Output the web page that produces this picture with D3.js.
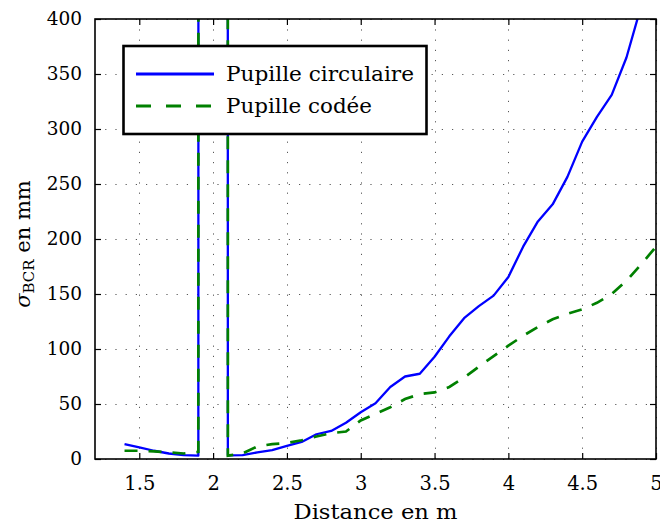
<!DOCTYPE html>
<html><head><meta charset="utf-8">
<script src="https://cdn.jsdelivr.net/npm/d3@7"></script>
<style>
body{margin:0;background:#fff}
text{font-family:"DejaVu Serif",serif;fill:#000}
</style>
</head><body>
<svg id="c" width="660" height="523"></svg>
<script>
const distance = [1.4,1.5,1.6,1.7,1.8,1.9,2.0,2.1,2.2,2.3,2.4,2.5,2.6,2.7,2.8,2.9,3.0,3.1,3.2,3.3,3.4,3.5,3.6,3.7,3.8,3.9,4.0,4.1,4.2,4.3,4.4,4.5,4.6,4.7,4.8,4.9,5.0];
const pupilleCirculaire = [13.6,10.5,7.5,5,3.5,3,100000,3.3,3.5,6,8,12,15.5,22.5,25.5,33,42.5,50.6,65.5,75,77.5,93,111.5,128,139,148.5,165.5,193,216,231.5,256.5,288.5,311,331,365,412,460];
const pupilleCodee = [7.5,7.5,7,6,5,6.5,100000,3,5,11.5,13.5,14.5,17,20.5,23.5,25,35,41,47,54.5,59,60.5,65.5,74,84,93.5,103,112,120,127,132,136,142,150,162,177,193];
const xTicks = [1.5,2,2.5,3,3.5,4,4.5,5];
const yTicks = [0,50,100,150,200,250,300,350,400];
const seriesNames = ["Pupille circulaire","Pupille codée"];
const seriesColors = ["#0000ff","#008000"];

const svg = d3.select("#c");
const L = 95, T = 19, R = 656, B = 459;
const x = d3.scaleLinear().domain([1.2,5]).range([L,R]);
const y = d3.scaleLinear().domain([0,400]).range([B,T]);
const FF = "DejaVu Serif";

// grid
const grid = svg.append("g").attr("stroke","#222").attr("stroke-width",1).attr("stroke-dasharray","1.2,9").attr("opacity",0.75);
grid.selectAll("line.v").data(xTicks).enter().append("line")
  .attr("x1",d=>Math.round(x(d))+0.5).attr("x2",d=>Math.round(x(d))+0.5).attr("y1",B).attr("y2",T);
grid.selectAll("line.h").data(yTicks).enter().append("line")
  .attr("y1",d=>Math.round(y(d))+0.5).attr("y2",d=>Math.round(y(d))+0.5).attr("x1",L).attr("x2",R);

// clip
svg.append("clipPath").attr("id","clip").append("rect").attr("x",L).attr("y",T).attr("width",R-L).attr("height",B-T);

const line = d3.line().x((d,i)=>x(distance[i])).y(d=>y(d));
const g = svg.append("g").attr("clip-path","url(#clip)");
g.append("path").datum(pupilleCirculaire).attr("d",line).attr("fill","none")
  .attr("stroke",seriesColors[0]).attr("stroke-width",2.3).attr("stroke-linejoin","round");
g.append("path").datum(pupilleCodee).attr("d",line).attr("fill","none")
  .attr("stroke",seriesColors[1]).attr("stroke-width",2.7).attr("stroke-dasharray","13,11");

// axes with inward ticks
const tickLen = 6;
const ax = svg.append("g");
ax.append("g").attr("transform",`translate(0,${B})`)
  .call(d3.axisBottom(x).tickValues(xTicks).tickSizeInner(-tickLen).tickSizeOuter(0).tickPadding(15).tickFormat(d3.format("")))
  .call(s=>{s.select(".domain").remove(); s.selectAll("text").attr("font-size",19.5).attr("font-family",FF).attr("dy","0.82em");});
ax.append("g").attr("transform",`translate(0,${T})`)
  .call(d3.axisTop(x).tickValues(xTicks).tickSizeInner(-tickLen).tickSizeOuter(0).tickFormat(""))
  .call(s=>s.select(".domain").remove());
ax.append("g").attr("transform",`translate(${L},0)`)
  .call(d3.axisLeft(y).tickValues(yTicks).tickSizeInner(-tickLen).tickSizeOuter(0).tickPadding(13))
  .call(s=>{s.select(".domain").remove(); s.selectAll("text").attr("font-size",18.5).attr("font-family",FF);});
ax.append("g").attr("transform",`translate(${R},0)`)
  .call(d3.axisRight(y).tickValues(yTicks).tickSizeInner(-tickLen).tickSizeOuter(0).tickFormat(""))
  .call(s=>s.select(".domain").remove());
ax.selectAll(".tick line").attr("stroke","#000").attr("stroke-width",1.2);

svg.append("rect").attr("x",L).attr("y",T).attr("width",R-L).attr("height",B-T)
  .attr("fill","none").attr("stroke","#000").attr("stroke-width",1.6);

// axis labels
svg.append("text").attr("x",(L+R)/2).attr("y",519).attr("text-anchor","middle").attr("font-size",20)
  .attr("textLength",164).attr("lengthAdjust","spacingAndGlyphs").text("Distance en m");
const yl = svg.append("text").attr("transform","translate(30,244) rotate(-90)").attr("text-anchor","middle").attr("font-size",21);
yl.append("tspan").attr("font-style","italic").text("σ");
yl.append("tspan").attr("font-size",15).attr("dy",4).text("BCR");
yl.append("tspan").attr("dy",-4).text(" en mm");

// legend
const lg = svg.append("g");
lg.append("rect").attr("x",123.5).attr("y",46).attr("width",303).attr("height",88)
  .attr("fill","#fff").attr("stroke","#000").attr("stroke-width",2.6);
const rowsY = [74,106];
seriesNames.forEach((n,i)=>{
  lg.append("line").attr("x1",136).attr("x2",214).attr("y1",rowsY[i]).attr("y2",rowsY[i])
    .attr("stroke",seriesColors[i]).attr("stroke-width",3)
    .attr("stroke-dasharray", i===1 ? "15,15" : null);
  lg.append("text").attr("x",226).attr("y",rowsY[i]+7).attr("font-size",20)
    .attr("textLength", i===0 ? 188 : 146).attr("lengthAdjust","spacingAndGlyphs").text(n);
});
</script>
</body></html>
